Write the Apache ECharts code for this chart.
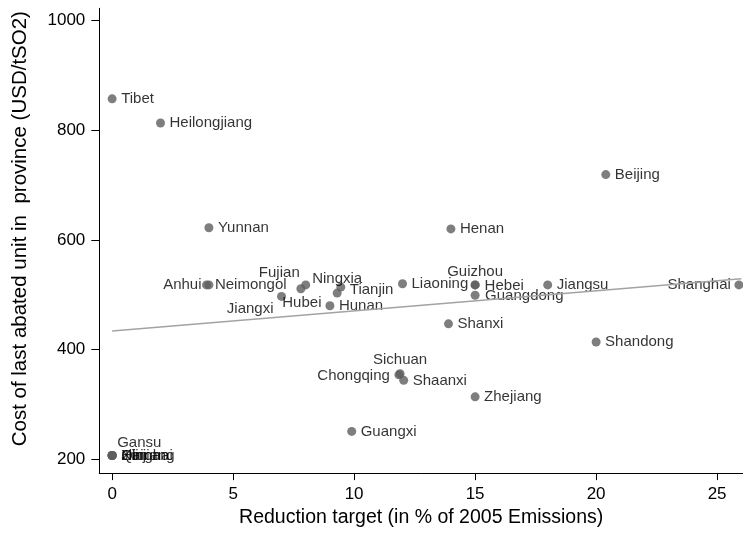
<!DOCTYPE html>
<html>
<head>
<meta charset="utf-8">
<script src="https://cdn.jsdelivr.net/npm/echarts@6/dist/echarts.min.js"></script>
<style>
html,body{margin:0;padding:0;background:#fff;}
#chart{width:743px;height:533px;}
</style>
</head>
<body>
<div id="chart"></div>
<script>
// ---- data ----
const provinces = ["Tibet","Heilongjiang","Yunnan","Beijing","Henan","Anhui","Neimongol","Fujian","Hubei","Ningxia","Tianjin","Jiangxi","Hunan","Liaoning","Guizhou","Hebei","Guangdong","Jiangsu","Shanghai","Shanxi","Shandong","Sichuan","Chongqing","Shaanxi","Zhejiang","Guangxi","Gansu","Qinghai","Xinjiang","Hainan","Jilin"];
const reductionTarget = [0, 2, 4, 20.4, 14, 3.9, 4, 8, 7.8, 9.3, 9.45, 7, 9, 12, 15, 15, 15, 18, 25.9, 13.9, 20, 11.9, 11.85, 12.05, 15, 9.9, 0, 0, 0, 0, 0];
const abatementCost = [857, 813, 622, 719, 620, 518, 518, 518, 511, 503, 514, 497, 480, 520, 518, 518, 499, 518, 518, 447, 414, 356, 354, 344, 314, 251, 207, 207, 207, 207, 207];
const fitX = [0, 26];
const fitY = [434, 529];
const xTicks = [0, 5, 10, 15, 20, 25];
const yTicks = [200, 400, 600, 800, 1000];

// ---- label placement (style): offset of label anchor from marker centre ----
const SYM = 9;
const defaultPlace = {dx: 9, dy: 0, align: 'left'};
const labelPlacement = {
  Shanghai: {dx: -8, dy: 0, align: 'right'},
  Anhui: {dx: -5, dy: 0, align: 'right'},
  Neimongol: {dx: 6, dy: 0, align: 'left'},
  Fujian: {dx: -6, dy: -12.5, align: 'right'},
  Hubei: {dx: 1, dy: 14, align: 'center'},
  Ningxia: {dx: 0, dy: -14, align: 'center'},
  Tianjin: {dx: 9, dy: 2.5, align: 'left'},
  Jiangxi: {dx: -8, dy: 12, align: 'right'},
  Guizhou: {dx: 0, dy: -13.5, align: 'center'},
  Sichuan: {dx: 0, dy: -13.5, align: 'center'},
  Chongqing: {dx: -9, dy: 0.5, align: 'right'},
  Gansu: {dx: 5, dy: -12.7, align: 'left'},
  Hebei: {dx: 9.5, dy: 1, align: 'left'},
  Guangdong: {dx: 10, dy: 1, align: 'left'}
};

const FONT = 'Liberation Sans, Arial, Helvetica, sans-serif';
const scatterData = provinces.map((p, i) => {
  const pl = labelPlacement[p] || defaultPlace;
  return {
    name: p,
    value: [reductionTarget[i], abatementCost[i]],
    label: {
      show: true,
      formatter: p,
      position: [pl.dx + SYM / 2, pl.dy + SYM / 2],
      align: pl.align,
      verticalAlign: 'middle',
      color: '#000',
      fontSize: 15,
      fontFamily: FONT
    }
  };
});

const chart = echarts.init(document.getElementById('chart'), null, {renderer: 'canvas'});
chart.setOption({
  animation: false,
  backgroundColor: '#ffffff',
  grid: {left: 99.3, right: 0, top: 8.3, bottom: 54, containLabel: false},
  xAxis: {
    type: 'value',
    min: -0.53, max: 26.07,
    name: 'Reduction target (in % of 2005 Emissions)',
    nameLocation: 'middle', nameGap: 34,
    nameTextStyle: {fontSize: 19.5, color: '#000', fontFamily: FONT},
    axisLine: {show: true, onZero: false, lineStyle: {color: '#000', width: 1}},
    axisTick: {show: true, length: 7, customValues: xTicks, lineStyle: {color: '#000'}},
    axisLabel: {customValues: xTicks, fontSize: 17, color: '#000', fontFamily: FONT, margin: 13,
      formatter: v => String(v)},
    splitLine: {show: false}
  },
  yAxis: {
    type: 'value',
    min: 175, max: 1022,
    name: 'Cost of last abated unit in  province (USD/tSO2)',
    nameLocation: 'middle', nameGap: 68,
    nameTextStyle: {fontSize: 20.5, color: '#000', fontFamily: FONT, padding: [0, 0, 0, 24]},
    axisLine: {show: true, onZero: false, lineStyle: {color: '#000', width: 1}},
    axisTick: {show: true, length: 8, customValues: yTicks, lineStyle: {color: '#000'}},
    axisLabel: {customValues: yTicks, fontSize: 17, color: '#000', fontFamily: FONT, margin: 14,
      formatter: v => String(v)},
    splitLine: {show: false}
  },
  series: [
    {
      type: 'scatter',
      z: 2,
      symbol: 'circle',
      symbolSize: SYM,
      itemStyle: {color: '#5e5e5e'},
      data: scatterData
    },
    {
      type: 'line',
      z: 3,
      symbol: 'none',
      lineStyle: {color: '#a3a3a3', width: 1.5},
      data: fitX.map((x, i) => [x, fitY[i]])
    }
  ]
});
</script>
</body>
</html>
